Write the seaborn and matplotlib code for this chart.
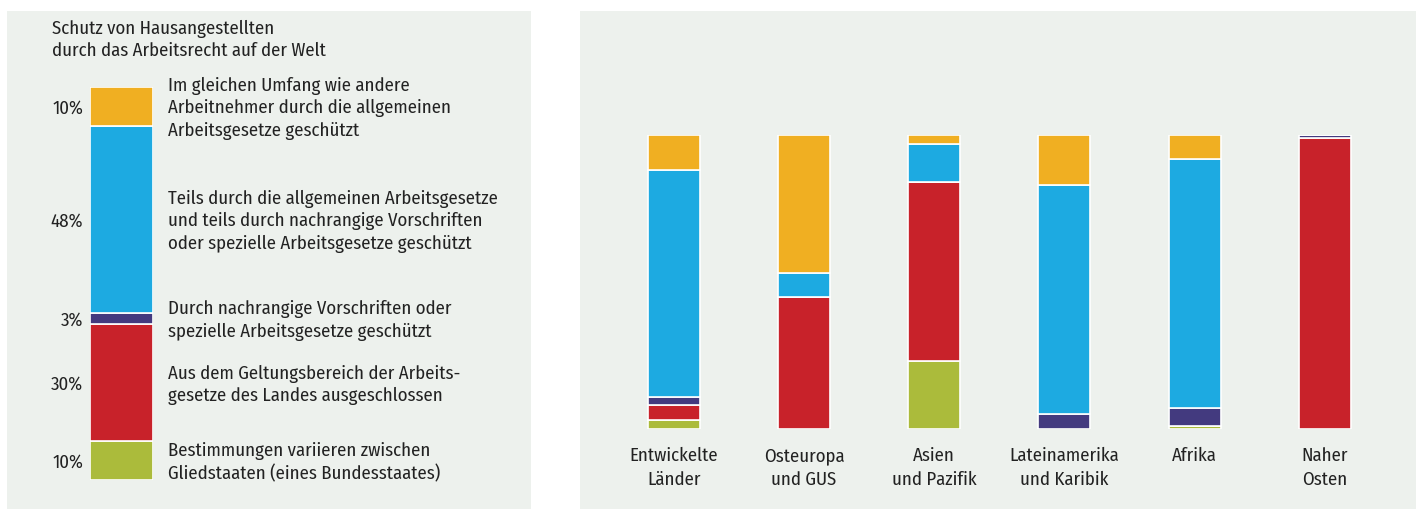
import pandas as pd
import seaborn as sns
import matplotlib.pyplot as plt
from matplotlib.patches import Rectangle

# Data (shares in %, stacked from bottom to top)
segments = ['Bestimmungen variieren zwischen\nGliedstaaten (eines Bundesstaates)',
            'Aus dem Geltungsbereich der Arbeits-\ngesetze des Landes ausgeschlossen',
            'Durch nachrangige Vorschriften oder\nspezielle Arbeitsgesetze geschützt',
            'Teils durch die allgemeinen Arbeitsgesetze\nund teils durch nachrangige Vorschriften\noder spezielle Arbeitsgesetze geschützt',
            'Im gleichen Umfang wie andere\nArbeitnehmer durch die allgemeinen\nArbeitsgesetze geschützt']
world = [10, 30, 3, 48, 10]

regions = ['Entwickelte\nLänder', 'Osteuropa\nund GUS', 'Asien\nund Pazifik',
           'Lateinamerika\nund Karibik', 'Afrika', 'Naher\nOsten']
green = [3, 0, 23, 0, 1, 0]
red = [5, 45, 61, 0, 0, 99]
purple = [3, 0, 0, 5, 6, 1]
blue = [77, 8, 13, 78, 85, 0]
orange = [12, 47, 3, 17, 8, 0]

colors = ['#ABBB3B', '#C8222A', '#433A7F', '#1DAAE1', '#F0AF22']
bg = '#EDF1ED'
txt = '#222222'

sns.set_theme(style='white')
plt.rcParams['font.family'] = ['Fira Sans Condensed', 'DejaVu Sans']
plt.rcParams['text.color'] = txt

W, H = 1418, 509
fig = plt.figure(figsize=(W / 100, H / 100), dpi=100)
fig.patch.set_facecolor('white')

# panel backgrounds
fig.patches.append(Rectangle((7 / W, 0), 524 / W, 498 / H, transform=fig.transFigure,
                             facecolor=bg, edgecolor='none', zorder=-5))
fig.patches.append(Rectangle((580 / W, 0), 836 / W, 498 / H, transform=fig.transFigure,
                             facecolor=bg, edgecolor='none', zorder=-5))

fig.text(52 / W, 1 - 20 / H, 'Schutz von Hausangestellten\ndurch das Arbeitsrecht auf der Welt',
         fontsize=13.5, va='top', ha='left', linespacing=1.3, color=txt)

# left panel: world bar
axl = fig.add_axes([90 / W, 29 / H, 63 / W, 393 / H])
axl.set_facecolor('none')
df_w = pd.DataFrame({'cat': ['Welt'] * 5, 'seg': segments, 'val': world})
bottom = 0
for i, row in df_w.iterrows():
    sns.barplot(x=[row['cat']], y=[row['val']], bottom=bottom, color=colors[i], width=0.8,
                saturation=1, edgecolor='white', linewidth=1.2, ax=axl)
    mid = bottom + row['val'] / 2
    axl.annotate(f"{row['val']}%", xy=(0, mid), xycoords=('axes fraction', 'data'),
                 xytext=(-7, -2), textcoords='offset pixels', ha='right', va='center',
                 fontsize=13.5, color=txt)
    axl.annotate(row['seg'], xy=(1, mid), xycoords=('axes fraction', 'data'),
                 xytext=(15, -2), textcoords='offset pixels', ha='left', va='center',
                 fontsize=13.5, linespacing=1.3, color=txt)
    bottom += row['val']
axl.set_xlim(-0.4, 0.4)
axl.set_ylim(0, sum(world))
axl.axis('off')

# right panel: regions
axr = fig.add_axes([580 / W, 80 / H, 836 / W, 294 / H])
axr.set_facecolor('none')
df_r = pd.DataFrame({'region': regions, 'green': green, 'red': red, 'purple': purple,
                     'blue': blue, 'orange': orange})
cum = pd.Series([0] * len(regions))
for col, c in zip(['green', 'red', 'purple', 'blue', 'orange'], colors):
    sns.barplot(data=df_r, x='region', y=col, bottom=cum.values, color=c, width=0.4,
                saturation=1, edgecolor='white', linewidth=1.2, ax=axr)
    cum = cum + df_r[col]
axr.set_xlim(-0.72, 5.70)
axr.set_ylim(0, 100)
axr.set_xlabel('')
axr.set_ylabel('')
axr.set_yticks([])
axr.tick_params(axis='x', length=0, pad=13, labelsize=13.5, labelcolor=txt)
for lbl in axr.get_xticklabels():
    lbl.set_linespacing(1.45)
    lbl.set_va('top')
sns.despine(ax=axr, left=True, bottom=True)

fig.savefig('out.png', dpi=100, facecolor='white')
